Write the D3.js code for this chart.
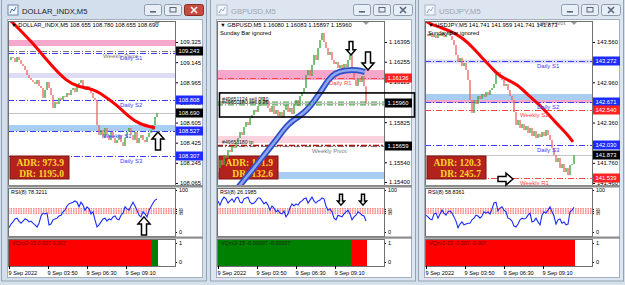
<!DOCTYPE html>
<html>
<head>
<meta charset="utf-8">
<script src="https://cdn.jsdelivr.net/npm/d3@7"></script>
<style>
  body { margin: 0; background: #d6e0eb; }
  svg { display: block; }
</style>
</head>
<body>
<svg id="c" width="625" height="285"></svg>
<script>
const FONT = '"Liberation Sans", Arial, sans-serif';
const SERIF = '"Liberation Serif", "DejaVu Serif", serif';

// ---- chart values ----
const titles = ['DOLLAR_INDX,M5', 'GBPUSD,M5', 'USDJPY,M5'];
const quotes = ['108.655 108.780 108.655 108.690', '1.16080 1.16083 1.15897 1.15960', '141.741 141.959 141.741 141.873'];
const rsiLast = ['78.3211', '26.1985', '58.8361'];
const vqText = ['0.007 0.007', '-0.00007 -0.00007', '-0.007 -0.007'];
const adrVals = ['973.9', '101.9', '120.3'];
const drVals = ['1195.0', '132.6', '245.7'];
const timeTicks = [0, 19.5, 39, 58.5];
const timeLabels = ['9 Sep 2022', '9 Sep 03:50', '9 Sep 06:30', '9 Sep 09:10'];

const close1 = [109.164, 109.191, 109.182, 109.146, 109.191, 109.164, 109.128, 109.111, 109.075, 109.030,
  109.003, 108.985, 108.968, 108.950, 108.985, 108.932, 108.914, 108.825, 108.896, 108.968,
  108.914, 108.851, 108.735, 108.789, 108.771, 108.825, 108.807, 108.842, 108.834, 108.869,
  108.851, 108.896, 108.914, 108.878, 108.941, 108.959, 108.985, 108.914, 108.896, 108.932,
  108.896, 108.869, 108.825, 108.807, 108.583, 108.494, 108.539, 108.467, 108.557, 108.494,
  108.449, 108.521, 108.467, 108.422, 108.449, 108.494, 108.431, 108.396, 108.467, 108.521,
  108.557, 108.494, 108.449, 108.521, 108.422, 108.467, 108.494, 108.449, 108.431, 108.476,
  108.512, 108.539, 108.583, 108.655, 108.690];
const close2 = [1.15500, 1.15556, 1.15521, 1.15592, 1.15571, 1.15627, 1.15613, 1.15656, 1.15642, 1.15684,
  1.15713, 1.15755, 1.15734, 1.15791, 1.15826, 1.15805, 1.15855, 1.15876, 1.15912, 1.15898,
  1.15940, 1.15983, 1.16004, 1.15961, 1.15983, 1.15926, 1.15898, 1.15940, 1.15883, 1.15912,
  1.15869, 1.15898, 1.15855, 1.15912, 1.15947, 1.15898, 1.15926, 1.15883, 1.15954, 1.15983,
  1.15940, 1.16011, 1.16040, 1.16068, 1.16160, 1.16196, 1.16153, 1.16232, 1.16303, 1.16267,
  1.16352, 1.16409, 1.16459, 1.16395, 1.16352, 1.16303, 1.16324, 1.16267, 1.16239, 1.16253,
  1.16210, 1.16232, 1.16196, 1.16239, 1.16217, 1.16267, 1.16303, 1.16182, 1.16125, 1.16082,
  1.16139, 1.16111, 1.16153, 1.16080, 1.15960];
const close3 = [143.679, 143.649, 143.694, 143.634, 143.664, 143.620, 143.679, 143.649, 143.694, 143.634,
  143.664, 143.709, 143.649, 143.590, 143.515, 143.366, 143.262, 143.322, 143.203, 143.247,
  143.143, 142.994, 142.696, 142.503, 142.696, 142.637, 142.756, 142.711, 142.786, 142.741,
  142.815, 142.771, 142.845, 142.875, 142.934, 143.083, 143.113, 143.024, 142.994, 142.905,
  142.934, 142.845, 142.756, 142.696, 142.517, 142.324, 142.398, 142.279, 142.339, 142.249,
  142.309, 142.205, 142.279, 142.160, 142.234, 142.130, 142.190, 142.145, 142.220, 142.160,
  142.249, 142.175, 142.100, 141.981, 141.876, 141.772, 141.832, 141.683, 141.743, 141.624,
  141.683, 141.579, 141.728, 141.741, 141.873];

const ma1Idx = [0, 12, 20, 29, 35, 42, 47, 54, 60, 65, 73];
const ma1Val = [109.53, 109.316, 109.137, 108.968, 108.923, 108.905, 108.851, 108.762, 108.655, 108.592, 108.557];
const ma2Idx = [9, 11, 18.5, 25, 30, 35, 43.5, 48.5, 52, 55, 58.5, 63.5, 70, 73.5];
const ma2Val = [1.15340, 1.15379, 1.15507, 1.15627, 1.15713, 1.15819, 1.15890, 1.15983, 1.16054, 1.16125, 1.16175, 1.16196, 1.16196, 1.16182];
const ma3Idx = [0, 1, 8, 14.5, 21, 28, 33, 36, 41, 46, 51, 58, 64.5, 71, 73.5];
const ma3Val = [143.87, 143.843, 143.769, 143.694, 143.560, 143.322, 143.173, 143.069, 142.994, 142.920, 142.771, 142.592, 142.369, 142.175, 142.071];

const rsi1 = [10, 19, 24, 31, 33, 26, 21, 26, 31, 29, 24, 26, 21, 17, 12, 21, 38, 45, 43, 45,
  17, 19, 29, 31, 33, 38, 40, 48, 52, 62, 67, 69, 71, 74, 71, 60, 71, 64, 52, 60,
  55, 43, 48, 29, 12, 17, 24, 31, 33, 26, 31, 29, 36, 38, 31, 29, 40, 45, 60, 55,
  52, 62, 71, 62, 52, 40, 36, 48, 43, 36, 52, 60, 69, 76, 78.3];
const rsi2 = [74, 64, 76, 83, 79, 69, 74, 79, 71, 81, 83, 71, 69, 79, 81, 83, 71, 67, 69, 74,
  81, 81, 74, 67, 71, 64, 52, 62, 57, 48, 52, 45, 43, 50, 36, 43, 57, 67, 62, 67,
  64, 71, 74, 79, 81, 69, 76, 83, 74, 69, 74, 76, 81, 79, 62, 52, 55, 48, 33, 29,
  40, 38, 36, 43, 48, 52, 43, 29, 36, 40, 48, 45, 40, 38, 26.2];
const rsi3 = [40, 36, 31, 29, 43, 45, 33, 43, 52, 45, 40, 48, 50, 45, 36, 26, 10, 19, 24, 17,
  19, 21, 21, 29, 33, 40, 38, 33, 38, 48, 45, 48, 43, 55, 69, 71, 50, 57, 60, 52,
  48, 33, 31, 26, 14, 12, 19, 29, 33, 31, 33, 40, 45, 24, 26, 33, 24, 17, 40, 48,
  45, 52, 60, 48, 38, 19, 29, 31, 21, 24, 17, 19, 48, 52, 58.8];
const rsiLevels = [55, 50, 45];

const ticks1 = [109.325, 109.145, 108.965, 108.785, 108.605, 108.425, 108.245, 108.065];
const ticks2 = [1.16395, 1.16255, 1.16115, 1.15825, 1.15540, 1.15400];
const ticks3 = [143.560, 143.260, 142.960, 142.660, 142.360, 142.060, 141.760, 141.460];

const band1Lo = [109.289, 109.003, 108.530], band1Hi = [109.343, 109.048, 108.583], band1Kind = ['pink', 'lilac', 'sky'];
const band2Lo = [1.16125, 1.15677, 1.15421], band2Hi = [1.16196, 1.15727, 1.15471], band2Kind = ['pink', 'rose', 'sky'];
const band3Lo = [143.240, 142.696, 142.651], band3Hi = [143.300, 142.786, 142.696], band3Kind = ['lilac', 'sky', 'pink'];

const lv1Price = [109.243, 109.225, 108.808, 108.527, 108.307];
const lv1Name = ['Weekly Pivot', 'Daily S1', 'Daily S2', 'Weekly S1', 'Daily S3'];
const lv2Price = [1.16136, 1.15655];
const lv2Name = ['Daily R1', 'Weekly Pivot'];
const lv3Price = [143.917, 143.272, 142.671, 142.540, 142.030, 141.539];
const lv3Name = ['Daily Pivot', 'Daily S1', 'Daily S2', 'Weekly S2', 'Daily S3', 'Weekly R1'];

const box1Price = [109.243, 108.808, 108.690, 108.527, 108.307], box1Kind = ['k', 'b', 'k', 'b', 'b'];
const box2Price = [1.16136, 1.15960, 1.15659], box2Kind = ['r', 'k', 'k'];
const box3Price = [143.272, 142.671, 142.540, 142.030, 141.873, 141.539], box3Kind = ['b', 'b', 'r', 'b', 'k', 'r'];

const ord2Price = [1.15968, 1.15948];
const ord2Name = ['#49651124 sell 0.20', '#49651180 sell 0.25'];
const tp2Price = 1.15659, tp2Name = '#49651180 tp';
const objBox2 = [1.16033, 1.15862];

const vq1From = [0, 72], vq1To = [71, 74], vq1Sign = [-1, 1];
const vq2From = [0, 67], vq2To = [66, 74], vq2Sign = [1, -1];
const vq3From = [0], vq3To = [74], vq3Sign = [-1];

const arr1Panel = ['main', 'rsi'], arr1Idx = [74.5, 67.5], arr1Val = [108.521, 36], arr1Dir = ['up', 'up'];
const arr2Panel = ['main', 'main', 'rsi', 'rsi'], arr2Idx = [66.5, 75, 61.5, 72.5], arr2Val = [1.16303, 1.16196, 64, 64], arr2Dir = ['down', 'down', 'down', 'down'];
const arr3Panel = ['main'], arr3Idx = [43.5], arr3Val = [141.519], arr3Dir = ['right'];

// ---- config table built from the arrays ----
const charts = [
  { ox: 0, close: close1, maI: ma1Idx, maV: ma1Val, maKind: 'red', rsi: rsi1, ticks: ticks1, fmt: '.3f', dom: [109.325, 108.065], rng: [42, 183],
    bLo: band1Lo, bHi: band1Hi, bK: band1Kind, lvP: lv1Price, lvN: lv1Name, bxP: box1Price, bxK: box1Kind,
    vqF: vq1From, vqT: vq1To, vqS: vq1Sign, arP: arr1Panel, arI: arr1Idx, arV: arr1Val, arD: arr1Dir, sunday: false },
  { ox: 209, close: close2, maI: ma2Idx, maV: ma2Val, maKind: 'blue', rsi: rsi2, ticks: ticks2, fmt: '.5f', dom: [1.16395, 1.15400], rng: [42, 182],
    bLo: band2Lo, bHi: band2Hi, bK: band2Kind, lvP: lv2Price, lvN: lv2Name, bxP: box2Price, bxK: box2Kind,
    vqF: vq2From, vqT: vq2To, vqS: vq2Sign, arP: arr2Panel, arI: arr2Idx, arV: arr2Val, arD: arr2Dir, sunday: true },
  { ox: 417, close: close3, maI: ma3Idx, maV: ma3Val, maKind: 'red', rsi: rsi3, ticks: ticks3, fmt: '.3f', dom: [143.560, 141.460], rng: [42, 183],
    bLo: band3Lo, bHi: band3Hi, bK: band3Kind, lvP: lv3Price, lvN: lv3Name, bxP: box3Price, bxK: box3Kind,
    vqF: vq3From, vqT: vq3To, vqS: vq3Sign, arP: arr3Panel, arI: arr3Idx, arV: arr3Val, arD: arr3Dir, sunday: true }
];

const bandColor = { pink: '#f6a7cc', lilac: '#dedcf4', sky: '#a8cdf2', rose: '#fbd2dd' };
const boxColor = { k: '#000', b: '#1f2cff', r: '#ff2323' };
const redNames = ['Weekly S2', 'Weekly R1', 'Daily R1'];
function levelColor(n) {
  if (n === 'Weekly Pivot' || n === 'Daily Pivot') return '#7c7c7c';
  return redNames.includes(n) ? '#ff4545' : '#3d3dff';
}
const arrowPath = {
  up: 'M0,0 L6,7 L2.5,7 L2.5,18 L-2.5,18 L-2.5,7 L-6,7 Z',
  down: 'M0,0 L6,-7 L2.5,-7 L2.5,-18 L-2.5,-18 L-2.5,-7 L-6,-7 Z',
  right: 'M0,0 L-7,-6 L-7,-2.5 L-15,-2.5 L-15,2.5 L-7,2.5 L-7,6 Z'
};

const svg = d3.select('#c').attr('font-family', FONT);
svg.append('rect').attr('width', 625).attr('height', 285).attr('fill', '#d6e0eb');

function drawChart(c, ci) {
  const ox = c.ox, L = ox + 8, R = ox + 175, T = 21, B = 185;
  const act = ci === 0;
  const g = svg.append('g');

  // window frame and title bar
  g.append('rect').attr('x', ox + 1.5).attr('y', -3).attr('width', 205).attr('height', 284)
    .attr('fill', act ? '#d3dfec' : '#dde6f0').attr('stroke', '#93a3b6');
  const ic = g.append('g').attr('transform', `translate(${ox + 8},5)`);
  ic.append('rect').attr('width', 10).attr('height', 10).attr('fill', '#f3f6fa').attr('stroke', act ? '#6c87a8' : '#a6b6c8');
  ic.append('path').attr('d', 'M2,8 L4,4 L6,6 L8,2').attr('fill', 'none').attr('stroke', act ? '#3b6fb0' : '#9bb0c8');
  g.append('text').attr('x', ox + 22).attr('y', 13.5).attr('font-size', 7.6)
    .attr('fill', act ? '#1c1c1c' : '#9aa5b1').text(titles[ci]);
  [[144, 17], [164, 17], [184, 19]].forEach(([bx, bw], k) => {
    const red = k === 2 && act;
    g.append('rect').attr('x', ox + bx + 0.5).attr('y', 4.5).attr('width', bw).attr('height', 11).attr('rx', 2)
      .attr('fill', red ? '#c9493f' : '#e8eef5').attr('stroke', red ? '#86302a' : '#8e9cad');
    const cx = ox + bx + bw / 2 + 0.5;
    const gc = red ? '#fff' : '#5a6677';
    if (k === 0) g.append('rect').attr('x', cx - 3).attr('y', 11).attr('width', 6).attr('height', 1.6).attr('fill', gc);
    if (k === 1) g.append('rect').attr('x', cx - 3).attr('y', 7.5).attr('width', 6).attr('height', 4.5).attr('fill', 'none').attr('stroke', gc);
    if (k === 2) g.append('path').attr('d', `M${cx - 3},7 L${cx + 3},13 M${cx + 3},7 L${cx - 3},13`).attr('stroke', gc).attr('stroke-width', 1.6);
  });

  // client area
  g.append('rect').attr('x', ox + 7.5).attr('y', 19.5).attr('width', 195).attr('height', 258).attr('fill', '#fff').attr('stroke', '#a4b0bd');

  const x = d3.scaleLinear().domain([0, 74]).range([L + 1, L + 149]);
  const y = d3.scaleLinear().domain(c.dom).range(c.rng);

  // main panel
  const clipId = 'cm' + ci;
  svg.append('clipPath').attr('id', clipId).append('rect').attr('x', L).attr('y', T).attr('width', R - L).attr('height', B - T);
  const m = g.append('g').attr('clip-path', `url(#${clipId})`);

  c.bLo.forEach((lo, k) => {
    m.append('rect').attr('x', L).attr('width', R - L).attr('y', y(c.bHi[k])).attr('height', y(lo) - y(c.bHi[k]))
      .attr('fill', bandColor[c.bK[k]]);
  });
  c.lvP.forEach((p, k) => {
    m.append('line').attr('x1', L).attr('x2', R).attr('y1', Math.round(y(p)) + 0.5).attr('y2', Math.round(y(p)) + 0.5)
      .attr('stroke', levelColor(c.lvN[k])).attr('stroke-dasharray', '6,2,1,2');
  });
  const last = c.close[c.close.length - 1];
  m.append('line').attr('x1', L).attr('x2', R).attr('y1', Math.round(y(last)) + 0.5).attr('y2', Math.round(y(last)) + 0.5)
    .attr('stroke', '#c4c4c4');

  // ADR box
  m.append('rect').attr('x', ox + 10).attr('y', 156).attr('width', 59).attr('height', 23)
    .attr('fill', '#b3221d').attr('stroke', '#7d1511');
  m.append('text').attr('x', ox + 64).attr('y', 166).attr('text-anchor', 'end').attr('font-family', SERIF)
    .attr('font-weight', 'bold').attr('font-size', 9.5).attr('fill', '#ffd42a').text('ADR: ' + adrVals[ci]);
  m.append('text').attr('x', ox + 64).attr('y', 177).attr('text-anchor', 'end').attr('font-family', SERIF)
    .attr('font-weight', 'bold').attr('font-size', 9.5).attr('fill', '#ffd42a').text('DR: ' + drVals[ci]);

  if (ci === 1) {
    m.append('line').attr('x1', L).attr('x2', R).attr('y1', y(tp2Price)).attr('y2', y(tp2Price))
      .attr('stroke', '#b0100e').attr('stroke-width', 1.6).attr('stroke-dasharray', '6,2,2,2');
  }

  // candles
  const bars = c.close.slice(1).map((v, k) => ({ i: k + 1, o: c.close[k], c: v }));
  m.selectAll('rect.cd').data(bars).enter().append('rect').attr('class', 'cd')
    .attr('x', d => x(d.i) - 0.7).attr('width', 1.4)
    .attr('y', d => y(Math.max(d.o, d.c))).attr('height', d => Math.max(1, Math.abs(y(d.o) - y(d.c))))
    .attr('fill', d => d.c >= d.o ? '#3ea83e' : '#f06a6a');

  // moving average
  const maLine = d3.line().x(d => x(d[0])).y(d => y(d[1])).curve(d3.curveBasis);
  const maPts = c.maI.map((v, k) => [v, c.maV[k]]);
  if (c.maKind === 'blue') {
    m.append('path').attr('d', maLine(maPts)).attr('fill', 'none').attr('stroke', '#2f4fc8').attr('stroke-width', 6);
    m.append('path').attr('d', maLine(maPts)).attr('fill', 'none').attr('stroke', '#8ea7f0').attr('stroke-width', 2.5);
  } else {
    m.append('path').attr('d', maLine(maPts)).attr('fill', 'none').attr('stroke', '#ff0000').attr('stroke-width', 3);
  }

  if (ci === 1) {
    ord2Price.forEach((p, k) => {
      m.append('line').attr('x1', L).attr('x2', R).attr('y1', y(p)).attr('y2', y(p))
        .attr('stroke', '#2f8f2f').attr('stroke-dasharray', '6,2,1,2');
      m.append('text').attr('x', L + 5).attr('y', y(p) - 1).attr('font-size', 5.2).attr('fill', '#222').text(ord2Name[k]);
    });
    m.append('text').attr('x', L + 5).attr('y', y(tp2Price) - 2).attr('font-size', 5.2).attr('fill', '#222').text(tp2Name);
  }

  // level labels
  c.lvP.forEach((p, k) => {
    const n = c.lvN[k];
    g.append('text').attr('x', ox + (n.startsWith('Weekly') ? 103 : 120)).attr('y', y(p) + 7)
      .attr('font-size', 6).attr('fill', levelColor(n)).text(n);
  });

  // header
  g.append('text').attr('x', L + 3).attr('y', 27).attr('font-size', 5.8).attr('fill', '#000')
    .text('\u25BC ' + titles[ci] + '  ' + quotes[ci]);
  if (c.sunday) g.append('text').attr('x', L + 3).attr('y', 35).attr('font-size', 5.8).attr('fill', '#000').text('Sunday Bar ignored');
  g.append('path').attr('d', `M${x(74) - 3},${T + 1} L${x(74) + 3},${T + 1} L${x(74)},${T + 4} Z`).attr('fill', '#9a9a9a');

  // price axis
  const ya = g.append('g').attr('transform', `translate(${R},0)`)
    .call(d3.axisRight(y).tickValues(c.ticks).tickFormat(d3.format(c.fmt)).tickSize(3).tickPadding(2));
  ya.select('.domain').remove();
  ya.attr('font-size', 5.8).attr('font-family', FONT);
  c.bxP.forEach((p, k) => {
    const yy = Math.round(y(p));
    g.append('rect').attr('x', R + 1).attr('y', yy - 4.5).attr('width', 27).attr('height', 9).attr('fill', boxColor[c.bxK[k]]);
    g.append('text').attr('x', R + 3.5).attr('y', yy + 2.2).attr('font-size', 5.8).attr('fill', '#fff').text(d3.format(c.fmt)(p));
  });

  // RSI panel
  const r = d3.scaleLinear().domain([0, 100]).range([232, 190]);
  svg.append('clipPath').attr('id', 'cr' + ci).append('rect').attr('x', L).attr('y', 188).attr('width', R - L).attr('height', 48);
  const rg = g.append('g').attr('clip-path', `url(#cr${ci})`);
  rsiLevels.forEach(v => {
    rg.append('line').attr('x1', L).attr('x2', R).attr('y1', r(v)).attr('y2', r(v)).attr('stroke', '#ff3b3b').attr('stroke-dasharray', '1.5,1');
  });
  rg.append('path').datum(c.rsi).attr('fill', 'none').attr('stroke', '#1a2dff').attr('stroke-width', 1.1)
    .attr('d', d3.line().x((d, i) => x(i)).y(d => r(d)));
  g.append('text').attr('x', L + 3).attr('y', 194).attr('font-size', 5.4).attr('fill', '#000').text('RSI(8) ' + rsiLast[ci]);
  const ra = g.append('g').attr('transform', `translate(${R},0)`)
    .call(d3.axisRight(r).tickValues([100, 55, 50, 45, 0]).tickSize(2).tickPadding(2));
  ra.select('.domain').remove();
  ra.attr('font-size', 5.4).attr('font-family', FONT);
  // the three level labels sit almost on top of each other, as in MT4; keep them small
  ra.selectAll('.tick text').filter(d => rsiLevels.includes(d)).attr('font-size', 3.6);

  // VQ panel
  c.vqF.forEach((f, k) => {
    const x0 = f === 0 ? L : x(f) - 1;
    g.append('rect').attr('x', x0).attr('y', 239).attr('width', x(c.vqT[k]) + 1 - x0).attr('height', 27)
      .attr('fill', c.vqS[k] > 0 ? '#008000' : '#ff0000');
  });
  g.append('text').attr('x', L + 4).attr('y', 245).attr('font-size', 5.4)
    .attr('fill', c.vqS[0] > 0 ? '#1a2a10' : '#7a0000').text('VQzz2-15 ' + vqText[ci]);
  const v = d3.scaleLinear().domain([0, 1]).range([262, 243]);
  const va = g.append('g').attr('transform', `translate(${R},0)`)
    .call(d3.axisRight(v).tickValues([1, 0]).tickFormat(d3.format('d')).tickSize(2).tickPadding(2));
  va.select('.domain').remove();
  va.attr('font-size', 5.6).attr('font-family', FONT);

  // panel borders and separators
  [[T, B], [188, 236], [239, 266]].forEach(([a, b]) => {
    g.append('rect').attr('x', L + 0.5).attr('y', a + 0.5).attr('width', R - L).attr('height', b - a)
      .attr('fill', 'none').attr('stroke', '#707070');
  });
  g.append('rect').attr('x', ox + 8).attr('y', 185).attr('width', 195).attr('height', 2.5).attr('fill', '#8d8d8d');
  g.append('rect').attr('x', ox + 8).attr('y', 236.5).attr('width', 195).attr('height', 2.2).attr('fill', '#8d8d8d');

  // time axis
  const ta = g.append('g').attr('transform', `translate(0,266)`)
    .call(d3.axisBottom(x).tickValues(timeTicks).tickFormat((d, i) => timeLabels[i]).tickSize(3).tickPadding(2));
  ta.select('.domain').remove();
  ta.attr('font-size', 5.6).attr('font-family', FONT).attr('text-anchor', 'start');
  ta.selectAll('text').attr('dx', -1);

  // annotations
  if (ci === 1) {
    g.append('rect').attr('x', ox + 10.5).attr('y', y(objBox2[0])).attr('width', 195).attr('height', y(objBox2[1]) - y(objBox2[0]))
      .attr('fill', 'none').attr('stroke', '#000').attr('stroke-width', 1.6);
  }
  c.arP.forEach((p, k) => {
    const ax = x(c.arI[k]), ay = p === 'main' ? y(c.arV[k]) : r(c.arV[k]);
    const s = (ci === 1 && p === 'rsi') ? 0.6 : (ci === 1 && k === 0 ? 0.75 : 1);
    g.append('path').attr('d', arrowPath[c.arD[k]]).attr('transform', `translate(${ax},${ay}) scale(${s})`)
      .attr('fill', '#fff').attr('stroke', '#000').attr('stroke-width', 1.5 / s);
  });
}

charts.forEach(drawChart);
</script>
</body>
</html>
